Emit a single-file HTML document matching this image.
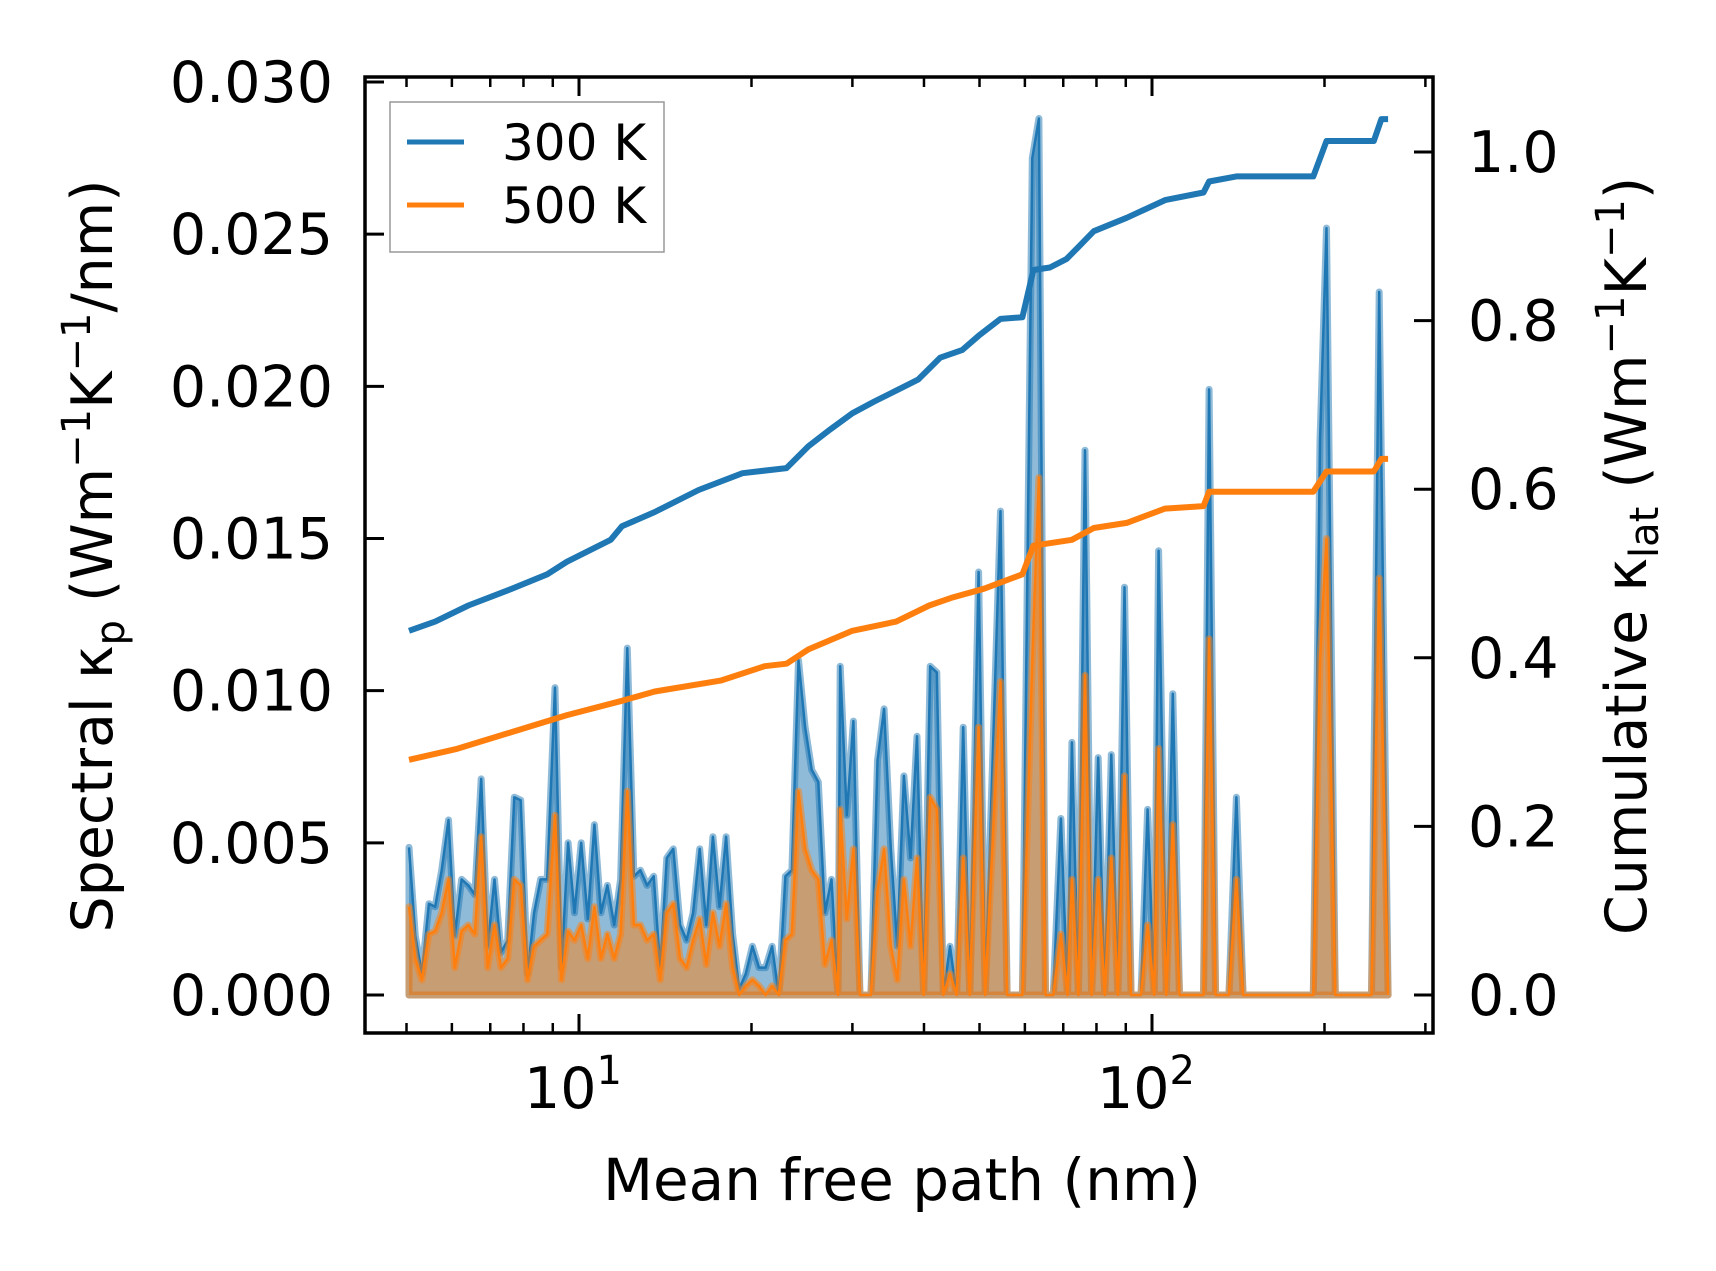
<!DOCTYPE html>
<html><head><meta charset="utf-8"><style>
html,body{margin:0;padding:0;background:#fff;}
svg text{font-family:"DejaVu Sans","Liberation Sans",sans-serif;fill:#000;}
</style></head><body>
<svg id="chart" width="1716" height="1271" viewBox="0 0 1716 1271" xmlns="http://www.w3.org/2000/svg">
<g id="plot"></g>
<g id="axes"></g>
</svg>
<script>
// ---- data ----
const mfp = [5.05,5.18,5.32,5.47,5.61,5.76,5.92,6.07,6.24,6.41,6.58,6.75,6.93,7.12,7.31,7.51,7.71,7.91,8.13,8.35,8.57,8.80,9.08,9.32,9.57,9.82,10.09,10.36,10.64,10.92,11.21,11.52,11.82,12.14,12.47,12.80,13.15,13.50,13.86,14.23,14.61,15.01,15.41,15.82,16.24,16.68,17.13,17.59,18.06,18.54,19.04,19.55,20.07,20.61,21.17,21.73,22.32,22.92,23.53,24.16,24.81,25.47,26.16,26.86,27.58,28.32,28.57,29.33,30.12,30.93,32.32,33.19,34.08,35.00,35.93,36.90,37.89,38.90,39.95,41.02,42.12,43.25,44.41,45.60,46.83,48.08,49.82,51.16,54.41,55.87,59.41,61.82,63.48,65.18,67.24,69.34,71.20,72.47,74.40,76.40,78.44,80.55,82.70,84.92,87.20,89.54,91.95,95.66,98.24,100.9,102.7,105.9,108.7,111.7,123.0,125.8,129.1,136.2,140.4,144.2,191.2,196.4,201.6,208.9,241.6,249.2,258.2];
const kp300 = [0.00485,0.00195,0.0007,0.0030,0.0029,0.0041,0.00575,0.00195,0.0038,0.0036,0.0033,0.0071,0.0016,0.0038,0.0014,0.0018,0.0065,0.0064,0.0007,0.0027,0.0038,0.0038,0.0101,0.0009,0.0050,0.0027,0.0050,0.0025,0.0056,0.0027,0.0036,0.0023,0.0038,0.0114,0.0039,0.0041,0.0036,0.0039,0.0009,0.0045,0.0048,0.0023,0.0018,0.0027,0.0048,0.0023,0.0052,0.0029,0.0052,0.0020,0.0002,0.0007,0.0016,0.0009,0.0009,0.0016,0,0.0039,0.0041,0.0110,0.0088,0.0074,0.0070,0.0027,0.0038,0,0.0108,0.0059,0.0090,0,0,0.0077,0.0094,0.0048,0.0016,0.0072,0.0045,0.0085,0,0.0108,0.0106,0,0.0016,0,0.0088,0,0.0139,0,0.0159,0,0,0.0275,0.0288,0,0,0.0058,0,0.0083,0,0.0179,0,0.0078,0,0.0079,0,0.0134,0,0,0.0061,0,0.0146,0,0.0099,0,0,0.0199,0,0,0.0065,0,0,0.0182,0.0252,0,0,0.0231,0];
const kp500 = [0.0029,0.0012,0.0005,0.0020,0.0021,0.0027,0.0038,0.0009,0.0021,0.0023,0.0020,0.0052,0.0009,0.0023,0.0009,0.0012,0.0038,0.0036,0.0005,0.0016,0.0018,0.0020,0.0059,0.0005,0.0021,0.0018,0.0023,0.0012,0.0029,0.0012,0.0020,0.0012,0.0020,0.0067,0.0023,0.0023,0.0018,0.0020,0.0005,0.0027,0.0030,0.0012,0.0009,0.0018,0.0025,0.0010,0.0027,0.0016,0.0030,0.0009,0,0.0003,0.0005,0.0003,0,0.0003,0,0.0018,0.0020,0.0067,0.0048,0.0041,0.0038,0.0010,0.0018,0,0.0061,0.0025,0.0048,0,0,0.0034,0.0048,0.0016,0.0005,0.0038,0.0016,0.0045,0,0.0065,0.0061,0,0.0007,0,0.0045,0,0.0088,0,0.0103,0,0,0.0110,0.0170,0,0,0.0020,0,0.0038,0,0.0105,0,0.0038,0,0.0045,0,0.0072,0,0,0.0023,0,0.0081,0,0.0056,0,0,0.0117,0,0,0.0038,0,0,0.0110,0.0150,0,0,0.0137,0];
const cumMfp300 = [5.05,5.61,6.41,7.64,8.80,9.53,11.36,11.88,13.56,16.17,19.29,23.02,25.14,27.46,29.99,32.76,35.78,39.07,42.68,46.63,49.82,54.41,59.41,62.09,66.34,70.88,74.07,79.15,90.33,105.4,123.0,125.8,140.4,191.2,201.6,243.8,251.4,258.2];
const cum300 = [0.432,0.443,0.462,0.482,0.499,0.514,0.540,0.556,0.573,0.599,0.619,0.625,0.651,0.671,0.690,0.704,0.717,0.730,0.756,0.765,0.782,0.802,0.804,0.860,0.863,0.873,0.886,0.906,0.922,0.943,0.952,0.965,0.971,0.971,1.013,1.013,1.039,1.039];
const cumMfp500 = [5.05,6.13,7.64,9.53,11.88,13.56,17.67,21.08,23.02,25.14,29.99,35.78,40.84,44.60,50.93,59.41,62.09,72.47,79.15,90.33,105.4,123.0,125.8,191.2,201.6,243.8,251.4,258.2];
const cum500 = [0.279,0.292,0.312,0.332,0.349,0.360,0.373,0.390,0.393,0.410,0.432,0.443,0.462,0.471,0.482,0.499,0.533,0.540,0.554,0.560,0.577,0.580,0.597,0.597,0.621,0.621,0.636,0.636];
const leftTicks = [0,0.005,0.010,0.015,0.020,0.025,0.030];
const leftTickLabels = ["0.000","0.005","0.010","0.015","0.020","0.025","0.030"];
const rightTicks = [0,0.2,0.4,0.6,0.8,1.0];
const rightTickLabels = ["0.0","0.2","0.4","0.6","0.8","1.0"];
const xMajor = [10,100];
const xMajorExp = ["1","2"];
const xMinor = [5,6,7,8,9,20,30,40,50,60,70,80,90,200,300];

// ---- geometry ----
const L=365,R=1433,T=77,B=1033;
const sx = v => 579 + (Math.log10(v)-1)*573;
const syL = v => 995 - v/0.005*152.17;
const syR = v => 995 - v*843;
const NS="http://www.w3.org/2000/svg";
const plot=document.getElementById('plot'), axes=document.getElementById('axes');
function mk(tag, attrs, parent){const e=document.createElementNS(NS,tag);for(const k in attrs)e.setAttribute(k,attrs[k]);parent.appendChild(e);return e;}

function spectral(vals,color,name){
  let top=mfp.map((m,i)=>sx(m).toFixed(1)+","+syL(vals[i]).toFixed(1));
  let d="M"+sx(mfp[0]).toFixed(1)+","+syL(0).toFixed(1)+" L"+top.join(" L")+" L"+sx(mfp[mfp.length-1]).toFixed(1)+","+syL(0).toFixed(1)+"Z";
  const f=mk('path',{d:d,fill:color,'fill-opacity':0.5,stroke:color,'stroke-opacity':0.5,'stroke-width':7,'stroke-linejoin':'round'},plot);
  
  
  const l=mk('path',{d:"M"+top.join(" L"),fill:'none',stroke:color,'stroke-width':2.5,'stroke-linejoin':'round'},plot);
  
  
}
spectral(kp300,'#1f77b4','spectral-300k');
spectral(kp500,'#ff7f0e','spectral-500k');

function cum(xs,vals,color,name){
  const d="M"+xs.map((m,i)=>sx(m).toFixed(1)+","+syR(vals[i]).toFixed(1)).join(" L");
  const l=mk('path',{d:d,fill:'none',stroke:color,'stroke-width':6,'stroke-linejoin':'round'},plot);
  
  
}
cum(cumMfp300,cum300,'#1f77b4','cumulative-300k');
cum(cumMfp500,cum500,'#ff7f0e','cumulative-500k');

// frame
const fr=mk('rect',{x:L,y:T,width:R-L,height:B-T,fill:'none',stroke:'#000','stroke-width':3.5},axes);



leftTicks.forEach((v,i)=>{
  const y=syL(v);
  const t=mk('line',{x1:L,x2:L+19,y1:y,y2:y,stroke:'#000','stroke-width':3},axes);
  
  
  const tx=mk('text',{x:333,y:y+20,'text-anchor':'end','font-size':57},axes);
  tx.textContent=leftTickLabels[i];
  
  
});
rightTicks.forEach((v,i)=>{
  const y=syR(v);
  const t=mk('line',{x1:R-19,x2:R,y1:y,y2:y,stroke:'#000','stroke-width':3},axes);
  
  
  const tx=mk('text',{x:1468,y:y+20,'text-anchor':'start','font-size':57},axes);
  tx.textContent=rightTickLabels[i];
  
  
});
xMajor.forEach((v,i)=>{
  const x=sx(v);
  [[B,B-19],[T,T+19]].forEach(p=>{
    const t=mk('line',{x1:x,x2:x,y1:p[0],y2:p[1],stroke:'#000','stroke-width':3},axes);
    
    
  });
  const tx=mk('text',{x:x-6,y:1108,'text-anchor':'middle','font-size':57},axes);
  
  
  tx.appendChild(document.createTextNode('10'));
  const sup=mk('tspan',{dy:-24,'font-size':40},tx);
  sup.textContent=xMajorExp[i];
});
xMinor.forEach(v=>{
  const x=sx(v);
  if(x<L||x>R) return;
  [[B,B-10],[T,T+10]].forEach(p=>{
    const t=mk('line',{x1:x,x2:x,y1:p[0],y2:p[1],stroke:'#000','stroke-width':2.5},axes);
    
    
  });
});
</script>
<svg width="1716" height="1271" style="position:absolute;left:0;top:0" xmlns="http://www.w3.org/2000/svg">
<text x="902" y="1200" text-anchor="middle" font-size="58">Mean free path (nm)</text>
<text transform="translate(112,556) rotate(-90)" text-anchor="middle" font-size="57">Spectral κ<tspan font-size="40" dy="12">p</tspan><tspan dy="-12"> (Wm</tspan><tspan font-size="40" dy="-22">−1</tspan><tspan dy="22">K</tspan><tspan font-size="40" dy="-22">−1</tspan><tspan dy="22">/nm)</tspan></text>
<text transform="translate(1646,556) rotate(-90)" text-anchor="middle" font-size="57">Cumulative κ<tspan font-size="40" dy="12">lat</tspan><tspan dy="-12"> (Wm</tspan><tspan font-size="40" dy="-22">−1</tspan><tspan dy="22">K</tspan><tspan font-size="40" dy="-22">−1</tspan><tspan dy="22">)</tspan></text>
<g>
<rect x="390" y="102" width="274" height="150" fill="#fff" fill-opacity="0.8" stroke="#999" stroke-width="1.5"/>
<line x1="407" x2="464" y1="142" y2="142" stroke="#1f77b4" stroke-width="5"/>
<text x="502" y="160" font-size="50">300 K</text>
<line x1="407" x2="464" y1="205" y2="205" stroke="#ff7f0e" stroke-width="5"/>
<text x="502" y="223" font-size="50">500 K</text>
</g>
</svg>
<style>body{position:relative;width:1716px;height:1271px;overflow:hidden;}#chart{position:absolute;left:0;top:0;}</style>
</body></html>
